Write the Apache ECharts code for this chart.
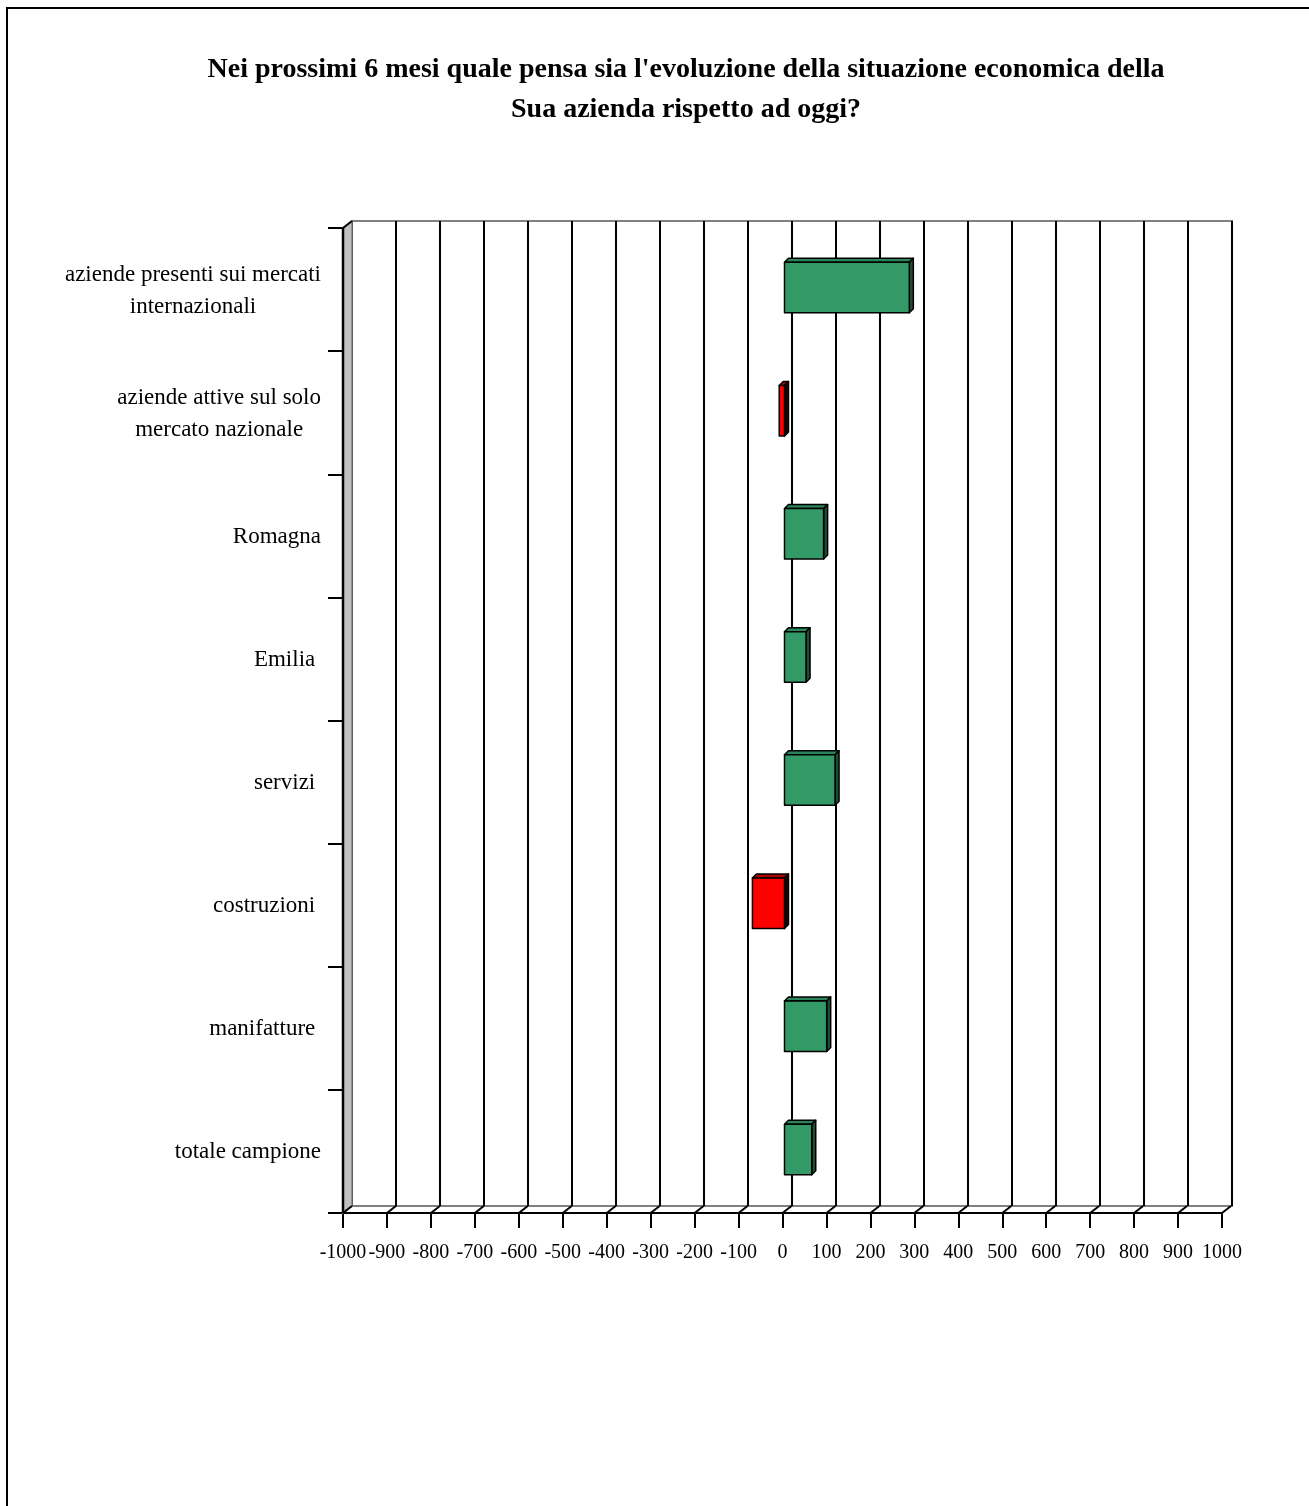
<!DOCTYPE html>
<html>
<head>
<meta charset="utf-8">
<script src="https://cdn.jsdelivr.net/npm/echarts@6/dist/echarts.min.js"></script>
<style>
  html, body { margin: 0; padding: 0; background: #fff; }
  #chart { position: absolute; left: 0; top: 0; width: 1309px; height: 1506px; }
  #frame { position: absolute; left: 6px; top: 7px; width: 1400px; height: 1600px;
           border-left: 2px solid #000; border-top: 2px solid #000; pointer-events: none; }
</style>
</head>
<body>
<div id="chart"></div>
<div id="frame"></div>
<script>
// ---- data ----
const titleText = "Nei prossimi 6 mesi quale pensa sia l'evoluzione della situazione economica della\nSua azienda rispetto ad oggi?";
const categories = [
  "totale campione",
  "manifatture ",
  "costruzioni ",
  "servizi ",
  "Emilia ",
  "Romagna",
  "aziende attive sul solo\nmercato nazionale",
  "aziende presenti sui mercati\ninternazionali"
];
const values = [62, 96, -73, 115, 49, 89, -12, 284];
const xTicks = [-1000, -900, -800, -700, -600, -500, -400, -300, -200, -100, 0,
                100, 200, 300, 400, 500, 600, 700, 800, 900, 1000];

const serif = "'Liberation Serif', 'Times New Roman', serif";
const DX = 9, DY = 7; // depth of the 3D box

const chart = echarts.init(document.getElementById('chart'), null, { renderer: 'canvas' });

function barItem(params, api) {
  const v = api.value(0), idx = api.value(1);
  const p0 = api.coord([0, idx]);
  const p1 = api.coord([v, idx]);
  const band = api.size([0, 1])[1];
  const h = band * 0.41;
  const ox = 2, oy = -2, d = 4;
  const xl = Math.min(p0[0], p1[0]) + ox, xr = Math.max(p0[0], p1[0]) + ox;
  const yt = p0[1] - h / 2 + oy, yb = p0[1] + h / 2 + oy;
  const neg = v < 0;
  const front = neg ? '#ff0000' : '#339966';
  const top = neg ? '#b00000' : '#2b8558';
  const side = neg ? '#200000' : '#1b4f36';
  const st = { stroke: '#000', lineWidth: 1.5, lineJoin: 'round' };
  return {
    type: 'group',
    children: [
      { type: 'polygon', shape: { points: [[xl, yt], [xl + d, yt - d], [xr + d, yt - d], [xr, yt]] },
        style: Object.assign({ fill: top }, st) },
      { type: 'polygon', shape: { points: [[xr, yt], [xr + d, yt - d], [xr + d, yb - d], [xr, yb]] },
        style: Object.assign({ fill: side }, st) },
      { type: 'rect', shape: { x: xl, y: yt, width: xr - xl, height: yb - yt },
        style: Object.assign({ fill: front }, st) }
    ]
  };
}

function floorItem(params, api) {
  const cs = params.coordSys;
  const x = api.coord([api.value(0), 0])[0];
  const yb = cs.y + cs.height;
  return {
    type: 'line',
    shape: { x1: x, y1: yb, x2: x + DX, y2: yb - DY },
    style: { stroke: '#000', lineWidth: 2 }
  };
}

function wallItem(params, api) {
  const cs = params.coordSys;
  const x = cs.x, y = cs.y, yb = cs.y + cs.height;
  return {
    type: 'group',
    children: [
      { type: 'polygon', shape: { points: [[x, yb], [x, y], [x + DX, y - DY], [x + DX, yb - DY]] },
        style: { fill: '#c0c0c0', stroke: '#808080', lineWidth: 1.5 } },
      { type: 'line', shape: { x1: x, y1: y, x2: x + DX, y2: y - DY }, style: { stroke: '#000', lineWidth: 2 } },
      { type: 'line', shape: { x1: x, y1: y, x2: x, y2: yb }, style: { stroke: '#000', lineWidth: 2.5 } }
    ]
  };
}

const option = {
  backgroundColor: '#ffffff',
  animation: false,
  title: {
    text: titleText,
    left: 681, top: 45,
    textAlign: 'center',
    textStyle: { fontFamily: serif, fontWeight: 'bold', fontSize: 28, lineHeight: 40, color: '#000' }
  },
  grid: [
    { // back wall
      left: 352, top: 221, width: 880, height: 985,
      show: true, backgroundColor: '#fff', borderColor: '#808080', borderWidth: 2, z: 0
    },
    { // front plane
      left: 343, top: 228, width: 879, height: 985
    }
  ],
  xAxis: [
    {
      gridIndex: 0, type: 'value', min: -1000, max: 1000, interval: 100,
      axisLine: { show: false }, axisTick: { show: false }, axisLabel: { show: false },
      splitLine: { show: true, lineStyle: { color: '#000', width: 2 } }
    },
    {
      gridIndex: 1, type: 'value', min: -1000, max: 1000, interval: 100,
      axisLine: { show: true, onZero: false, lineStyle: { color: '#000', width: 2 } },
      axisTick: { show: true, length: 15, lineStyle: { color: '#000', width: 2 } },
      axisLabel: { show: true, margin: 30, color: '#000', fontFamily: serif, fontSize: 20,
                   customValues: xTicks, formatter: v => String(v) },
      splitLine: { show: false }
    }
  ],
  yAxis: [
    {
      gridIndex: 0, type: 'value', min: 0, max: 1,
      axisLine: { show: false }, axisTick: { show: false }, axisLabel: { show: false }, splitLine: { show: false }
    },
    {
      gridIndex: 1, type: 'category', data: categories,
      axisLine: { show: true, onZero: false, lineStyle: { color: '#000', width: 2 } },
      axisTick: { show: true, length: 15, lineStyle: { color: '#000', width: 2 } },
      axisLabel: {
        margin: 22, color: '#000', fontFamily: serif, fontSize: 23, lineHeight: 32,
        formatter: v => v.split('\n').map(l => '{c|' + l + '}').join('\n'),
        rich: { c: { align: 'center', fontFamily: serif, fontSize: 23, lineHeight: 32, color: '#000', padding: [2, 0, 0, 0] } }
      },
      splitLine: { show: false }
    }
  ],
  series: [
    {
      name: 'wall', type: 'custom', xAxisIndex: 1, yAxisIndex: 1,
      coordinateSystem: 'cartesian2d', renderItem: wallItem,
      data: [[0, 0]], encode: { x: 0, y: 1 }, silent: true, z: 1, clip: false
    },
    {
      name: 'floor', type: 'custom', xAxisIndex: 1, yAxisIndex: 1,
      coordinateSystem: 'cartesian2d', renderItem: floorItem,
      data: xTicks.map(t => [t, 0]), encode: { x: 0, y: 1 }, silent: true, z: 1, clip: false
    },
    {
      name: 'saldo', type: 'custom', xAxisIndex: 1, yAxisIndex: 1,
      coordinateSystem: 'cartesian2d', renderItem: barItem,
      data: values.map((v, i) => [v, i]), encode: { x: 0, y: 1 }, z: 3, clip: false
    }
  ]
};
chart.setOption(option);
</script>
</body>
</html>
